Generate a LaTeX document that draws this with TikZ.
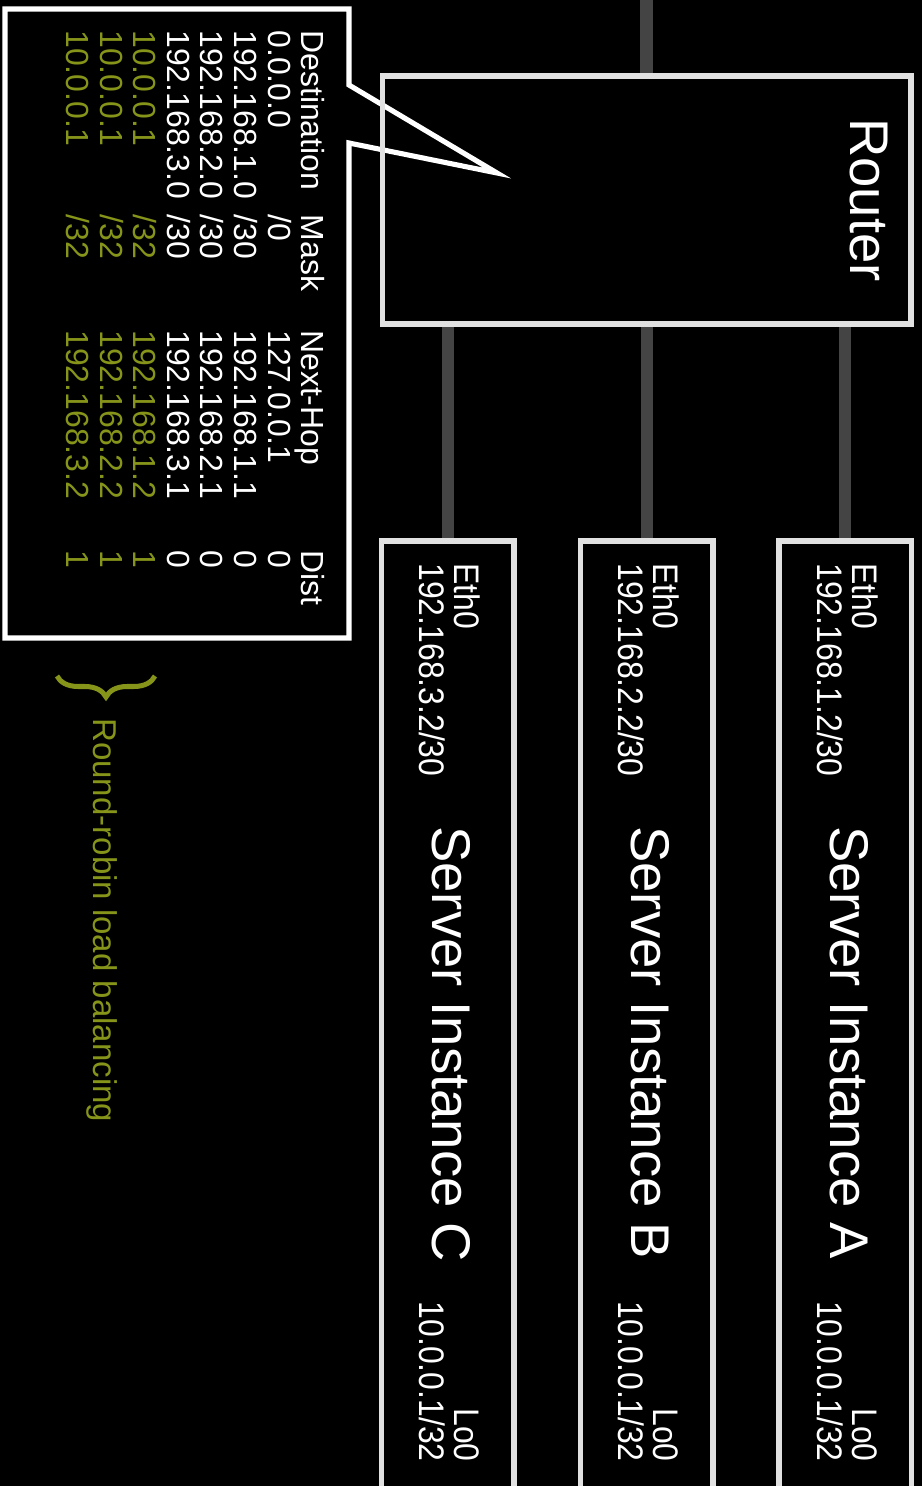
\documentclass[tikz,border=0pt]{standalone}
\usepackage{fontspec}
\setmainfont{Liberation Sans}
\newfontfamily\narrowfont{Liberation Sans}[FakeStretch=0.9]
\usepackage{tikz}
\usetikzlibrary{backgrounds,decorations.pathreplacing}
\definecolor{linkgray}{RGB}{68,68,68}
\definecolor{boxgray}{RGB}{225,225,225}
\definecolor{rrolive}{RGB}{134,148,26}
\newcommand{\olv}[1]{\textcolor{rrolive}{#1}}

\begin{document}
\begin{tikzpicture}[x=0.02cm,y=-0.02cm,
  box/.style={draw=boxgray,line width=2.9pt,fill=black,inner sep=0pt,outer sep=0pt},
  link/.style={linkgray,line width=7pt},
  vtext/.style={text=white,rotate=-90,inner sep=0pt},
  bigtxt/.style={vtext,font=\fontsize{31}{37}\selectfont},
  smalltxt/.style={vtext,font=\narrowfont\fontsize{20.2}{24}\selectfont}]
\useasboundingbox (0,0) rectangle (922,1486);
\clip (0,0) rectangle (922,1486);
\begin{scope}[on background layer]
\fill[black] (0,0) rectangle (922,1486);
\end{scope}

% routing table callout
\draw[white,line width=2.9pt,fill=black] (5,9) -- (349,9) -- (349,85) -- (497,173)
  -- (349,143) -- (349,638) -- (5,638) -- cycle;
\node[vtext,anchor=north west,font=\fontsize{18.2}{19.1}\selectfont] (table) at (325.5,30) {%
\begin{tabular}{@{}p{105pt}@{}p{65.7pt}@{}p{125.2pt}@{}l@{}}
Destination & Mask & Next-Hop & Dist\\
0.0.0.0 & /0 & 127.0.0.1 & 0\\
192.168.1.0 & /30 & 192.168.1.1 & 0\\
192.168.2.0 & /30 & 192.168.2.1 & 0\\
192.168.3.0 & /30 & 192.168.3.1 & 0\\
\olv{10.0.0.1} & \olv{/32} & \olv{192.168.1.2} & \olv{1}\\
\olv{10.0.0.1} & \olv{/32} & \olv{192.168.2.2} & \olv{1}\\
\olv{10.0.0.1} & \olv{/32} & \olv{192.168.3.2} & \olv{1}\\
\end{tabular}};

% router
\node[box,fill=none,minimum width=10.58cm,minimum height=4.96cm] (router) at (646.5,200) {};
\node[bigtxt,anchor=base] (routerlbl) at (850,200) {Router};

% servers
\foreach \s/\cx/\net in {A/845.25/1,B/646.75/2,C/447.75/3} {
  \node[box,anchor=north,minimum width=2.65cm,minimum height=19.58cm] (srv\s) at (\cx,541) {};
  \node[smalltxt,anchor=base west] (eth\s) at (\cx+7,563) {Eth0};
  \node[smalltxt,anchor=base west] (ethip\s) at (\cx-28,563) {192.168.\net.2/30};
  \node[bigtxt,anchor=base west] (name\s) at (\cx-15,826) {Server Instance \s};
  \node[smalltxt,anchor=base east] (lo\s) at (\cx+7,1462) {Lo0};
  \node[smalltxt,anchor=base east] (loip\s) at (\cx-28,1462) {10.0.0.1/32};
}

% links
\begin{scope}[on background layer]
\coordinate (uplink) at (646.5,-10);
\draw[link] (router.north) -- (uplink);
\foreach \s in {A,B,C}
  \draw[link] (router.south -| srv\s.north) -- (srv\s.north);
\end{scope}

% round-robin brace
\coordinate (brtop) at (155,676);
\coordinate (brbot) at (57,676);
\draw[rrolive,line width=2.85pt,decorate,decoration={brace,amplitude=0.42cm}] (brtop) -- (brbot);
\node[vtext,text=rrolive,anchor=base west,font=\fontsize{18.8}{22}\selectfont] (rrlbl) at (93,718) {Round-robin load balancing};
\end{tikzpicture}
\end{document}
